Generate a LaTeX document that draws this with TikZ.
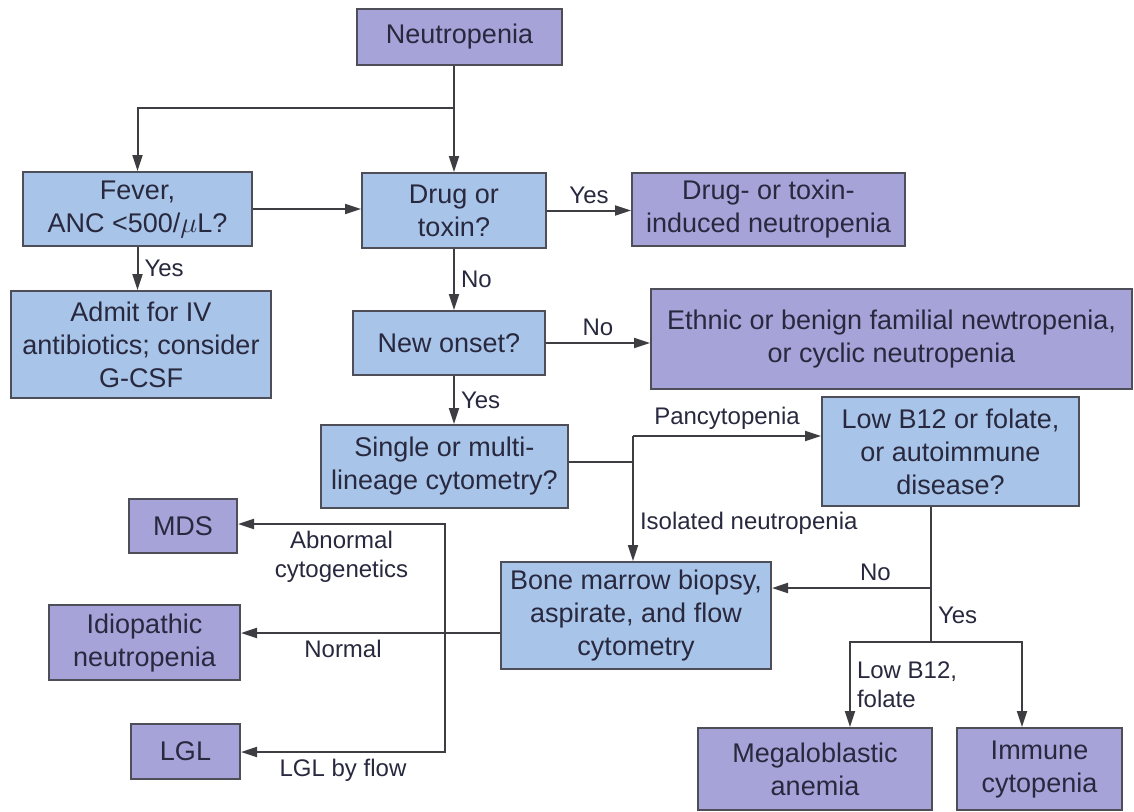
\documentclass[tikz,border=0pt]{standalone}
\usepackage{fontspec}
\setmainfont{Liberation Sans}
\usepackage{tikz}
\usetikzlibrary{positioning,arrows.meta}
\definecolor{qfill}{RGB}{168,196,232}
\definecolor{rfill}{RGB}{166,163,216}
\definecolor{edge}{RGB}{78,78,88}
\definecolor{ink}{RGB}{40,40,62}
\definecolor{wire}{RGB}{62,62,66}
\tikzset{
  blk/.style={draw=edge,line width=1pt,align=center,text=ink,inner sep=1pt,
    font=\fontsize{13.5}{16.5}\selectfont},
  qbox/.style={blk,fill=qfill},
  rbox/.style={blk,fill=rfill},
  lbl/.style={text=ink,inner sep=3pt,font=\fontsize{12}{14.5}\selectfont},
  ln/.style={draw=wire,line width=1pt},
  ar/.style={ln,-{Triangle[length=8pt,width=5pt]}},
}
\begin{document}
\begin{tikzpicture}[x=0.5pt,y=-0.5pt]
  \useasboundingbox (0,0) rectangle (1134,811);
  \node[rbox,minimum width=102.5pt,minimum height=28pt] (neut) at (459.5,37) {Neutropenia};
  \node[qbox,minimum width=114.5pt,minimum height=37pt] (fever) at (137.5,209) {Fever,\\ANC <500/$\mu$L?};
  \node[qbox,minimum width=92pt,minimum height=37.5pt] (drug) at (454,210.5) {Drug or\\toxin?};
  \node[rbox,minimum width=136.5pt,minimum height=36.5pt] (drugind) at (768.5,209.5) {Drug- or toxin-\\induced neutropenia};
  \node[qbox,minimum width=130pt,minimum height=53.5pt] (admit) at (141,344.5) {Admit for IV\\antibiotics; consider\\G-CSF};
  \node[qbox,minimum width=96pt,minimum height=32pt] (onset) at (449,343) {New onset?};
  \node[rbox,minimum width=240.5pt,minimum height=50pt] (ethnic) at (891.5,339) {Ethnic or benign familial newtropenia,\\or cyclic neutropenia};
  \node[qbox,minimum width=123.5pt,minimum height=41.5pt] (single) at (444.5,466.5) {Single or multi-\\lineage cytometry?};
  \node[qbox,minimum width=128.5pt,minimum height=54.5pt] (lowb) at (950.5,451.5) {Low B12 or folate,\\or autoimmune\\disease?};
  \node[qbox,minimum width=135pt,minimum height=53.5pt] (bone) at (636,615.5) {Bone marrow biopsy,\\aspirate, and flow\\cytometry};
  \node[rbox,minimum width=54pt,minimum height=27pt] (mds) at (183,526) {MDS};
  \node[rbox,minimum width=95.5pt,minimum height=37.5pt] (idio) at (144.5,642.5) {Idiopathic\\neutropenia};
  \node[rbox,minimum width=54.5pt,minimum height=27.5pt] (lgl) at (185.5,751.5) {LGL};
  \node[rbox,minimum width=117pt,minimum height=41pt] (mega) at (815,769) {Megaloblastic\\anemia};
  \node[rbox,minimum width=82.5pt,minimum height=41pt] (immune) at (1039.5,769) {Immune\\cytopenia};

  \coordinate (top) at (454,108);
  \coordinate (pj) at (633,436);
  \coordinate (sj) at (633,462);
  \coordinate (nj) at (931,588);
  \coordinate (lj) at (931,642);
  \coordinate (ml) at (850,642);
  \coordinate (mr) at (1022,642);
  \coordinate (bj) at (445,633);
  \coordinate (mj) at (445,524);
  \coordinate (gj) at (445,752);

  \draw[ln] (neut.south -| drug.north) -- (top);
  \draw[ar] (top) -- (drug.north);
  \draw[ar] (top) -| (fever.north);
  \draw[ar] (fever.east) -- (fever.east -| drug.west);
  \draw[ar] (drug.east) -- (drug.east -| drugind.west) node[lbl,midway,above] {Yes};
  \draw[ar] (fever.south) -- (fever.south |- admit.north) node[lbl,midway,right] {Yes};
  \draw[ar] (drug.south) -- (drug.south |- onset.north) node[lbl,midway,right] {No};
  \draw[ar] (onset.east) -- (onset.east -| ethnic.west) node[lbl,midway,above] {No};
  \draw[ar] (drug.south |- onset.south) -- (drug.south |- single.north) node[lbl,midway,right] {Yes};
  \draw[ln] (single.east |- sj) -- (sj);
  \draw[ar] (pj) -- (pj -| lowb.west) node[lbl,midway,above] {Pancytopenia};
  \draw[ar] (pj) -- (pj |- bone.north) node[lbl,pos=0.7,right] {Isolated neutropenia};
  \draw[ln] (lowb.south -| lj) -- (lj) node[lbl,pos=0.8,right] {Yes};
  \draw[ar] (nj) -- (nj -| bone.east) node[lbl,pos=0.35,above] {No};
  \draw[ar] (lj) -- (ml) -- (ml |- mega.north) node[lbl,midway,right,align=left] {Low B12,\\folate};
  \draw[ar] (lj) -- (mr) -- (mr |- immune.north);
  \draw[ln] (bone.west |- bj) -- (bj);
  \draw[ar] (bj) -- (bj -| idio.east) node[lbl,midway,below] {Normal};
  \draw[ar] (bj) -- (mj) -- (mj -| mds.east) node[lbl,midway,below,align=center] {Abnormal\\cytogenetics};
  \draw[ar] (bj) -- (gj) -- (gj -| lgl.east) node[lbl,midway,below] {LGL by flow};
\end{tikzpicture}
\end{document}
